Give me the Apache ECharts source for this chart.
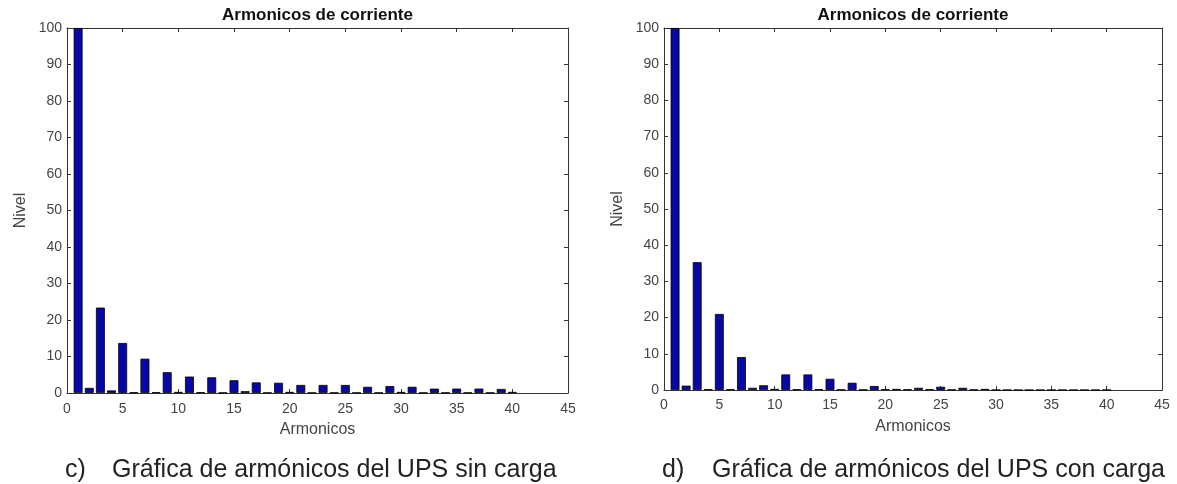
<!DOCTYPE html>
<html>
<head>
<meta charset="utf-8">
<script src="https://cdn.jsdelivr.net/npm/echarts@6/dist/echarts.min.js"></script>
<style>
  html, body { margin: 0; padding: 0; background: #ffffff; }
  #chart { width: 1177px; height: 484px; }
</style>
</head>
<body>
<div id="chart"></div>
<script>
// Harmonic orders 1..40
const harmonics = [1, 2, 3, 4, 5, 6, 7, 8, 9, 10, 11, 12, 13, 14, 15, 16, 17, 18, 19, 20,
                   21, 22, 23, 24, 25, 26, 27, 28, 29, 30, 31, 32, 33, 34, 35, 36, 37, 38, 39, 40];

// Current harmonic level (%), UPS without load
const nivelSinCarga = [100, 1.4, 23.4, 0.7, 13.7, 0.2, 9.4, 0.2, 5.7, 0.3,
                       4.5, 0.2, 4.3, 0.1, 3.5, 0.5, 2.9, 0.1, 2.8, 0.3,
                       2.2, 0.1, 2.2, 0.1, 2.2, 0.1, 1.7, 0.1, 1.9, 0.3,
                       1.7, 0.1, 1.2, 0.1, 1.2, 0.1, 1.2, 0.1, 1.1, 0.3];

// Current harmonic level (%), UPS with load
const nivelConCarga = [100, 1.2, 35.3, 0.2, 21.0, 0.2, 9.1, 0.6, 1.3, 0.3,
                       4.3, 0.2, 4.3, 0.2, 3.1, 0.1, 2.0, 0.1, 1.1, 0.2,
                       0.3, 0.2, 0.6, 0.2, 0.9, 0.1, 0.6, 0.1, 0.3, 0.0,
                       0.0, 0.0, 0.0, 0.0, 0.0, 0.0, 0.0, 0.0, 0.0, 0.0];

// Axis ranges and tick steps
const xRange = [0, 45];
const xStep = 5;
const yRange = [0, 100];
const yStep = 10;

// Texts
const plotTitle = 'Armonicos de corriente';
const xName = 'Armonicos';
const yName = 'Nivel';
const captions = [
  ['c)', 'Gráfica de armónicos del UPS sin carga'],
  ['d)', 'Gráfica de armónicos del UPS con carga']
];

// Panel layout (pixels)
const panels = [
  { left: 67, top: 28, width: 501, height: 365, data: nivelSinCarga, capX: 65, capTextX: 112, labelMargin: 9 },
  { left: 664, top: 28, width: 498, height: 362, data: nivelConCarga, capX: 662, capTextX: 712, labelMargin: 8 }
];

const FONT = 'Liberation Sans, Arial, sans-serif';
const AXIS_COLOR = '#333333';
const LABEL_COLOR = '#444444';
const BAR_COLOR = '#0808a8';

const chart = echarts.init(document.getElementById('chart'), null, { renderer: 'canvas' });

const grid = [], xAxis = [], yAxis = [], series = [], graphic = [];

panels.forEach((p, i) => {
  grid.push({ left: p.left, top: p.top, width: p.width, height: p.height, containLabel: false });

  const tickInside = { show: true, inside: true, length: 4, lineStyle: { color: AXIS_COLOR, width: 1 } };

  // bottom x axis (labelled)
  xAxis.push({
    type: 'value', gridIndex: i, min: xRange[0], max: xRange[1], interval: xStep,
    position: 'bottom',
    axisLine: { show: true, onZero: false, lineStyle: { color: AXIS_COLOR, width: 1 } },
    axisTick: tickInside,
    axisLabel: { color: LABEL_COLOR, fontFamily: FONT, fontSize: 14, margin: p.labelMargin },
    splitLine: { show: false },
    name: xName, nameLocation: 'middle', nameGap: 29,
    nameTextStyle: { color: LABEL_COLOR, fontFamily: FONT, fontSize: 16 }
  });
  // top x axis (box edge with ticks)
  xAxis.push({
    type: 'value', gridIndex: i, min: xRange[0], max: xRange[1], interval: xStep,
    position: 'top',
    axisLine: { show: true, onZero: false, lineStyle: { color: AXIS_COLOR, width: 1 } },
    axisTick: tickInside,
    axisLabel: { show: false },
    splitLine: { show: false }
  });
  // left y axis (labelled)
  yAxis.push({
    type: 'value', gridIndex: i, min: yRange[0], max: yRange[1], interval: yStep,
    position: 'left',
    axisLine: { show: true, onZero: false, lineStyle: { color: AXIS_COLOR, width: 1 } },
    axisTick: tickInside,
    axisLabel: { color: LABEL_COLOR, fontFamily: FONT, fontSize: 14, margin: 5 },
    splitLine: { show: false },
    name: yName, nameLocation: 'middle', nameGap: 38,
    nameTextStyle: { color: LABEL_COLOR, fontFamily: FONT, fontSize: 16 }
  });
  // right y axis (box edge with ticks)
  yAxis.push({
    type: 'value', gridIndex: i, min: yRange[0], max: yRange[1], interval: yStep,
    position: 'right',
    axisLine: { show: true, onZero: false, lineStyle: { color: AXIS_COLOR, width: 1 } },
    axisTick: tickInside,
    axisLabel: { show: false },
    splitLine: { show: false }
  });

  // bar width: 80% of one harmonic step
  const barW = p.width / (xRange[1] - xRange[0]) * 0.8;

  series.push({
    type: 'bar',
    xAxisIndex: i * 2,
    yAxisIndex: i * 2,
    data: harmonics.map((h, k) => [h, p.data[k]]),
    barWidth: barW,
    itemStyle: { color: BAR_COLOR, borderColor: '#000000', borderWidth: 0.8 },
    silent: true,
    animation: false
  });

  graphic.push({
    type: 'text',
    x: p.left + p.width / 2, y: 15,
    style: {
      text: plotTitle, fill: '#111111',
      font: 'bold 17px ' + FONT,
      textAlign: 'center', textVerticalAlign: 'middle'
    }
  });
  graphic.push({
    type: 'text', x: p.capX, y: 470,
    style: { text: captions[i][0], fill: '#222222', font: '25px ' + FONT, textAlign: 'left', textVerticalAlign: 'middle' }
  });
  graphic.push({
    type: 'text', x: p.capTextX, y: 470,
    style: { text: captions[i][1], fill: '#222222', font: '25px ' + FONT, textAlign: 'left', textVerticalAlign: 'middle' }
  });
});

chart.setOption({
  backgroundColor: '#ffffff',
  animation: false,
  grid, xAxis, yAxis, series, graphic
});
</script>
</body>
</html>
